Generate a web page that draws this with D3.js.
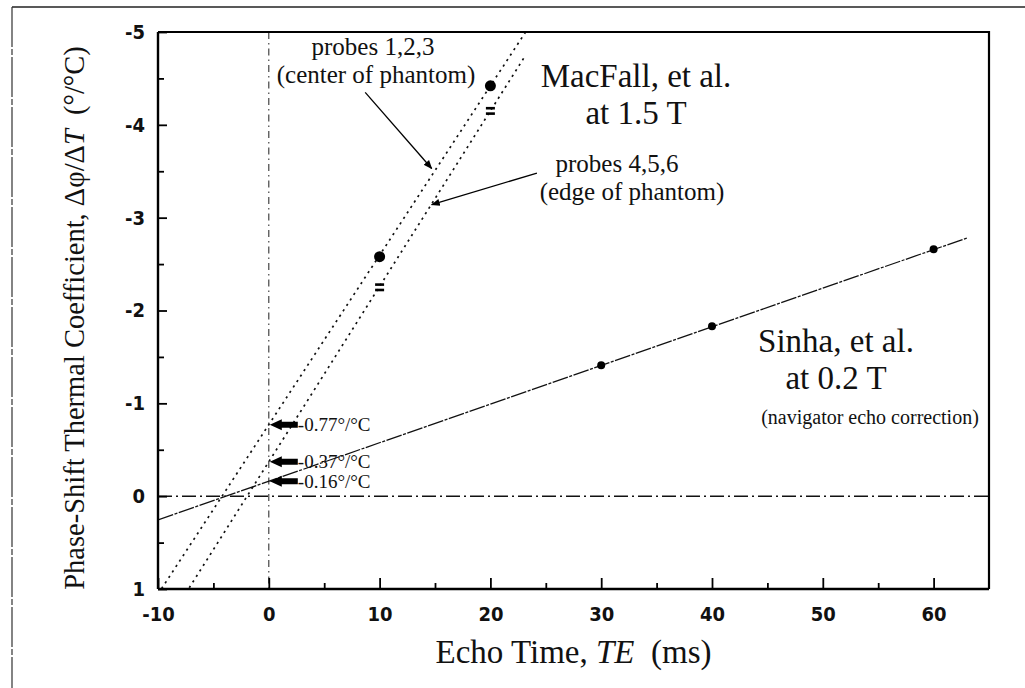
<!DOCTYPE html>
<html>
<head>
<meta charset="utf-8">
<script src="https://cdn.jsdelivr.net/npm/d3@7"></script>
<style>
  body { margin: 0; background: #fff; }
  svg { display: block; }
  .tick text { font-family: "Liberation Sans Narrow", "DejaVu Sans Condensed", "Liberation Sans", sans-serif; font-weight: bold; font-size: 20px; fill: #111; }
  .serif { font-family: "Liberation Serif", "Times New Roman", serif; fill: #111; }
</style>
</head>
<body>
<svg id="chart" width="1025" height="688"></svg>
<script>
// Axis ticks: echo time (ms) and phase-shift coefficient (deg/degC)
const xTicks = [-10, 0, 10, 20, 30, 40, 50, 60];
const xMinorTicks = [-5, 5, 15, 25, 35, 45, 55];
const yTicks = [-5, -4, -3, -2, -1, 0, 1];
const yMinorTicks = [-4.5, -3.5, -2.5, -1.5, -0.5, 0.5];

// MacFall et al. at 1.5 T
const macfallTE = [10, 20];
const centerProbes = [-2.58, -4.42];   // probes 1,2,3
const edgeProbes = [-2.25, -4.15];     // probes 4,5,6

// Sinha et al. at 0.2 T
const sinhaTE = [30, 40, 60];
const sinhaValues = [-1.41, -1.83, -2.66];

// Straight-line fits: value at TE = 0, slope per ms, drawn TE span
const fitNames = ["center", "edge", "sinha"];
const fitIntercepts = [-0.77, -0.37, -0.16];
const fitSlopes = [-0.1825, -0.189, -0.0416];
const fitStart = [-10, -10, -10];
const fitEnd = [23.2, 23.2, 63];
const interceptLabels = ["-0.77°/°C", "-0.37°/°C", "-0.16°/°C"];

const svg = d3.select("#chart");
const plotL = 158, plotR = 989, plotT = 32, plotB = 589;

const x = d3.scaleLinear().domain([-10, 65]).range([plotL, plotR]);
const y = d3.scaleLinear().domain([1, -5]).range([plotB, plotT]);

// outer figure frame (top and left edges)
svg.append("line").attr("x1", 12).attr("x2", 1025).attr("y1", 7).attr("y2", 7)
  .attr("stroke", "#222").attr("stroke-width", 1.5);
svg.append("line").attr("x1", 12).attr("x2", 12).attr("y1", 7).attr("y2", 688)
  .attr("stroke", "#333").attr("stroke-width", 1.2).attr("stroke-dasharray", "40,2,6,2");

const defs = svg.append("defs");
defs.append("clipPath").attr("id", "plot-clip")
  .append("rect").attr("x", plotL).attr("y", plotT).attr("width", plotR - plotL).attr("height", plotB - plotT);

// reference lines at TE = 0 and coefficient = 0
svg.append("line")
  .attr("x1", x(0)).attr("x2", x(0)).attr("y1", plotT).attr("y2", plotB)
  .attr("stroke", "#333").attr("stroke-width", 1.1).attr("stroke-dasharray", "7,4,1.5,4");
svg.append("line")
  .attr("x1", plotL).attr("x2", plotR).attr("y1", y(0)).attr("y2", y(0))
  .attr("stroke", "#111").attr("stroke-width", 1.5).attr("stroke-dasharray", "14,4,2,4");

// fitted lines
const fitStyle = {
  center: { dash: "2.2,4.3", width: 1.7 },
  edge:   { dash: "2.2,4.3", width: 1.7 },
  sinha:  { dash: "16,1.5,3,1.5", width: 1.3 }
};
const fitLine = d3.line().x(d => x(d[0])).y(d => y(d[1]));
const fits = fitNames.map((name, i) => ({
  name,
  pts: [fitStart[i], fitEnd[i]].map(t => [t, fitIntercepts[i] + fitSlopes[i] * t])
}));
svg.append("g").attr("clip-path", "url(#plot-clip)")
  .selectAll("path").data(fits).join("path")
  .attr("d", d => fitLine(d.pts))
  .attr("fill", "none").attr("stroke", "#111")
  .attr("stroke-width", d => fitStyle[d.name].width)
  .attr("stroke-dasharray", d => fitStyle[d.name].dash);

// data markers
svg.append("g").selectAll("circle").data(macfallTE.map((t, i) => [t, centerProbes[i]])).join("circle")
  .attr("cx", d => x(d[0])).attr("cy", d => y(d[1])).attr("r", 5.5).attr("fill", "#000");
const eq = svg.append("g").selectAll("g").data(macfallTE.map((t, i) => [t, edgeProbes[i]])).join("g")
  .attr("transform", d => `translate(${x(d[0])},${y(d[1])})`);
eq.append("rect").attr("x", -4.5).attr("y", -4).attr("width", 9).attr("height", 2.6).attr("fill", "#000");
eq.append("rect").attr("x", -4.5).attr("y", 1.4).attr("width", 9).attr("height", 2.6).attr("fill", "#000");
svg.append("g").selectAll("circle").data(sinhaTE.map((t, i) => [t, sinhaValues[i]])).join("circle")
  .attr("cx", d => x(d[0])).attr("cy", d => y(d[1])).attr("r", 4).attr("fill", "#000");

// intercept arrows at TE = 0
const arrows = svg.append("g").selectAll("g").data(fitIntercepts).join("g")
  .attr("transform", v => `translate(${x(0)},${y(v)})`);
arrows.append("path")
  .attr("d", "M1,0 L13,-5.5 L13,-3 L29,-3 L29,3 L13,3 L13,5.5 Z")
  .attr("fill", "#000");
arrows.append("text").attr("class", "serif")
  .attr("x", 29).attr("y", 6.5).attr("font-size", 19)
  .text((v, i) => interceptLabels[i]);

// axes
const gx = svg.append("g").attr("transform", `translate(0,${plotB})`)
  .call(d3.axisBottom(x).tickValues(xTicks).tickSize(-11).tickPadding(21).tickFormat(d => String(d)));
const gxm = svg.append("g").attr("transform", `translate(0,${plotB})`)
  .call(d3.axisBottom(x).tickValues(xMinorTicks).tickSize(-6).tickFormat(""));
const gy = svg.append("g").attr("transform", `translate(${plotL},0)`)
  .call(d3.axisLeft(y).tickValues(yTicks).tickSize(-9).tickPadding(13).tickFormat(d => String(d)));
const gym = svg.append("g").attr("transform", `translate(${plotL},0)`)
  .call(d3.axisLeft(y).tickValues(yMinorTicks).tickSize(-6).tickFormat(""));
[gx, gxm, gy, gym].forEach(g => {
  g.selectAll(".tick line").attr("stroke", "#000").attr("stroke-width", 1.8);
});
gxm.select(".domain").remove();
gym.select(".domain").remove();
gx.select(".domain").attr("d", `M${plotL},0H${plotR}`).attr("stroke", "#000").attr("stroke-width", 2.6);
gy.select(".domain").attr("d", `M0,${plotT}V${plotB}`).attr("stroke", "#000").attr("stroke-width", 2.4);
gx.selectAll(".tick text").attr("dy", "0.55em");

// top and right frame
svg.append("path").attr("d", `M${plotL},${plotT}H${plotR}V${plotB}`)
  .attr("fill", "none").attr("stroke", "#000").attr("stroke-width", 2.2);

// axis titles
const yTitle = svg.append("text").attr("class", "serif")
  .attr("transform", `translate(84,318) rotate(-90)`)
  .attr("text-anchor", "middle").attr("font-size", 28.5);
yTitle.append("tspan").text("Phase-Shift Thermal Coefficient, Δφ/Δ");
yTitle.append("tspan").attr("font-style", "italic").text("T");
yTitle.append("tspan").text("\u00a0 (°/°C)");

const xTitle = svg.append("text").attr("class", "serif")
  .attr("x", (plotL + plotR) / 2).attr("y", 663)
  .attr("text-anchor", "middle").attr("font-size", 33);
xTitle.append("tspan").text("Echo Time, ");
xTitle.append("tspan").attr("font-style", "italic").text("TE");
xTitle.append("tspan").text("\u00a0 (ms)");

// annotations: one text element per line
function note(lines, cxs, y0, dy, size) {
  lines.forEach((s, i) => svg.append("text").attr("class", "serif")
    .attr("text-anchor", "middle").attr("font-size", size)
    .attr("x", cxs[i]).attr("y", y0 + i * dy).text(s));
}
note(["probes 1,2,3", "(center of phantom)"], [373, 376], 55, 28, 25);
note(["probes 4,5,6", "(edge of phantom)"], [617, 632], 172, 28, 25);
note(["MacFall, et al.", "at 1.5 T"], [636, 636], 87, 37, 33);
note(["Sinha, et al.", "at 0.2 T"], [836, 836], 352, 37, 33);
note(["(navigator echo correction)"], [870], 424, 0, 20);

// leader lines to the MacFall fits
defs.append("marker").attr("id", "tip").attr("viewBox", "0 0 10 10")
  .attr("refX", 9).attr("refY", 5).attr("markerWidth", 9).attr("markerHeight", 9)
  .attr("markerUnits", "userSpaceOnUse").attr("orient", "auto")
  .append("path").attr("d", "M0,1 L10,5 L0,9 Z").attr("fill", "#000");
const leaders = [
  { from: [8.7, -4.35], to: [14.7, -3.53] },
  { from: [24.2, -3.48], to: [14.7, -3.14] }
];
svg.append("g").selectAll("line").data(leaders).join("line")
  .attr("x1", d => x(d.from[0])).attr("y1", d => y(d.from[1]))
  .attr("x2", d => x(d.to[0])).attr("y2", d => y(d.to[1]))
  .attr("stroke", "#000").attr("stroke-width", 1.3).attr("marker-end", "url(#tip)");
</script>
</body>
</html>
